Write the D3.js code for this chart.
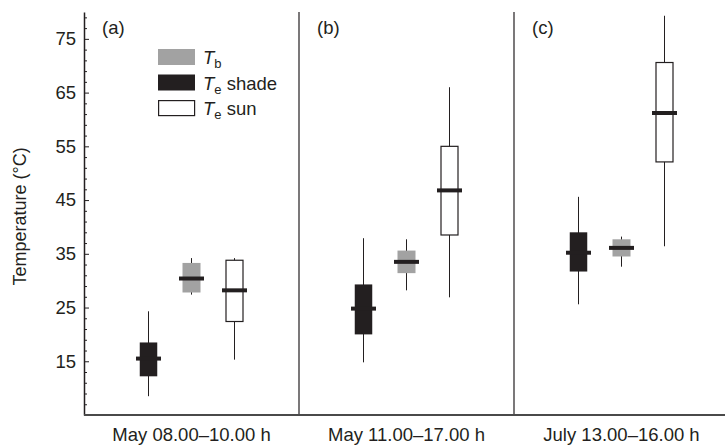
<!DOCTYPE html>
<html>
<head>
<meta charset="utf-8">
<script src="https://cdn.jsdelivr.net/npm/d3@7"></script>
<style>
  body { margin: 0; background: #fff; }
  svg text { font-family: "Liberation Sans", Arial, sans-serif; fill: #231f20; }
</style>
</head>
<body>
<div class="chart"></div>
<script>
// categories and series
const periods = ["May 08.00\u201310.00 h", "May 11.00\u201317.00 h", "July 13.00\u201316.00 h"];
const panelTags = ["(a)", "(b)", "(c)"];
const seriesKeys = ["shade", "tb", "sun"];
// [whisker low, q1, median, q3, whisker high] per period
const shadeStats = [[8.5, 12.2, 15.5, 18.5, 24.3], [14.8, 20.0, 24.8, 29.3, 37.9], [25.6, 31.7, 35.2, 39.0, 45.6]];
const tbStats = [[27.4, 27.8, 30.4, 33.3, 34.2], [28.2, 31.4, 33.5, 35.6, 37.7], [32.6, 34.5, 36.1, 37.7, 38.2]];
const sunStats = [[15.3, 22.4, 28.2, 33.8, 34.2], [26.9, 38.5, 46.8, 55.0, 66.0], [36.4, 52.1, 61.2, 70.6, 79.3]];
const majorTicks = [15, 25, 35, 45, 55, 65, 75];
const minorTicks = [7, 9, 11, 13, 17, 19, 21, 23, 27, 29, 31, 33, 37, 39, 41, 43, 47, 49, 51, 53, 57, 59, 61, 63, 67, 69, 71, 73, 77, 79];

const W = 725, H = 446;
const margin = { top: 12, left: 84, bottom: 31 };
const plotBottom = H - margin.bottom;
const ink = "#231f20";
const grey = "#a2a2a2";
const fs = 18.5;

const svg = d3.select(".chart").append("svg")
  .attr("width", W).attr("height", H);

const x = d3.scaleBand().domain(periods).range([margin.left, margin.left + 3 * 215]);
const offset = d3.scalePoint().domain(seriesKeys).range([-43, 43]);
const y = d3.scaleLinear().domain([5, 80]).range([plotBottom, margin.top]);

const styles = {
  shade: { fill: ink, stroke: "none", w: 17.5 },
  tb: { fill: grey, stroke: "none", w: 18 },
  sun: { fill: "#fff", stroke: ink, w: 17 }
};
const statsFor = { shade: shadeStats, tb: tbStats, sun: sunStats };

// y axis: major + minor ticks pointing inward
svg.append("g")
  .attr("transform", `translate(${margin.left},0)`)
  .call(d3.axisLeft(y).tickValues(minorTicks).tickSize(-3).tickFormat(""))
  .call(g => g.select(".domain").remove())
  .selectAll("line").attr("stroke", ink).attr("stroke-width", 1);

const yAx = svg.append("g")
  .attr("transform", `translate(${margin.left},0)`)
  .call(d3.axisLeft(y).tickValues(majorTicks).tickSize(-5).tickPadding(8).tickSizeOuter(0));
yAx.select(".domain").attr("stroke", ink).attr("stroke-width", 1.5);
yAx.selectAll("line").attr("stroke", ink).attr("stroke-width", 1);
yAx.selectAll("text").attr("font-size", fs).attr("fill", ink)
  .style("font-family", "Liberation Sans, Arial, sans-serif");

// panel dividers
svg.selectAll(".divider").data(periods.slice(1)).enter().append("line")
  .attr("x1", d => x(d)).attr("x2", d => x(d))
  .attr("y1", y(80)).attr("y2", plotBottom)
  .attr("stroke", ink).attr("stroke-width", 1.2);

// x baseline
svg.append("line")
  .attr("x1", margin.left).attr("x2", W)
  .attr("y1", plotBottom).attr("y2", plotBottom)
  .attr("stroke", "#4a4a4a").attr("stroke-width", 2);

// x labels and panel tags
svg.selectAll(".xlab").data(periods).enter().append("text")
  .attr("x", d => x(d) + x.bandwidth() / 2)
  .attr("y", H - 5)
  .attr("text-anchor", "middle")
  .attr("font-size", fs)
  .text(d => d);

svg.selectAll(".tag").data(panelTags).enter().append("text")
  .attr("x", (d, i) => x(periods[i]) + 18)
  .attr("y", 34)
  .attr("font-size", fs)
  .text(d => d);

// y title
svg.append("text")
  .attr("transform", `translate(26,${(margin.top + plotBottom) / 2 + 3}) rotate(-90)`)
  .attr("text-anchor", "middle")
  .attr("font-size", 18)
  .text("Temperature (\u00b0C)");

// boxes
seriesKeys.forEach(key => {
  const st = styles[key];
  const rows = periods.map((p, i) => ({ p, s: statsFor[key][i] }));
  const g = svg.append("g").attr("class", "series-" + key);
  const cx = d => x(d.p) + x.bandwidth() / 2 + offset(key);

  g.selectAll(".whisker").data(rows).enter().append("line")
    .attr("x1", cx).attr("x2", cx)
    .attr("y1", d => y(d.s[0])).attr("y2", d => y(d.s[4]))
    .attr("stroke", ink).attr("stroke-width", 1);

  g.selectAll(".box").data(rows).enter().append("rect")
    .attr("x", d => cx(d) - st.w / 2)
    .attr("width", st.w)
    .attr("y", d => y(d.s[3]))
    .attr("height", d => y(d.s[1]) - y(d.s[3]))
    .attr("fill", st.fill)
    .attr("stroke", st.stroke)
    .attr("stroke-width", 1.2);

  g.selectAll(".median").data(rows).enter().append("line")
    .attr("x1", d => cx(d) - 12.5).attr("x2", d => cx(d) + 12.5)
    .attr("y1", d => y(d.s[2])).attr("y2", d => y(d.s[2]))
    .attr("stroke", ink).attr("stroke-width", 4);
});

// legend
const legendItems = [
  { key: "tb", sub: "b", rest: "" },
  { key: "shade", sub: "e", rest: " shade" },
  { key: "sun", sub: "e", rest: " sun" }
];
const leg = svg.append("g").attr("transform", "translate(158,49)");
legendItems.forEach((it, i) => {
  const st = styles[it.key];
  const row = leg.append("g").attr("transform", `translate(0,${i * 25.5})`);
  row.append("rect")
    .attr("x", it.key === "sun" ? 0.6 : 0).attr("y", it.key === "sun" ? 0.6 : 0)
    .attr("width", it.key === "sun" ? 36 : 37).attr("height", it.key === "sun" ? 15 : 16)
    .attr("fill", st.fill).attr("stroke", st.stroke).attr("stroke-width", 1.2);
  const t = row.append("text").attr("x", 45).attr("y", 15).attr("font-size", fs);
  t.append("tspan").attr("font-style", "italic").text("T");
  t.append("tspan").attr("font-size", 13).attr("dy", 4).text(it.sub);
  if (it.rest) t.append("tspan").attr("dy", -4).text(it.rest);
});
</script>
</body>
</html>
